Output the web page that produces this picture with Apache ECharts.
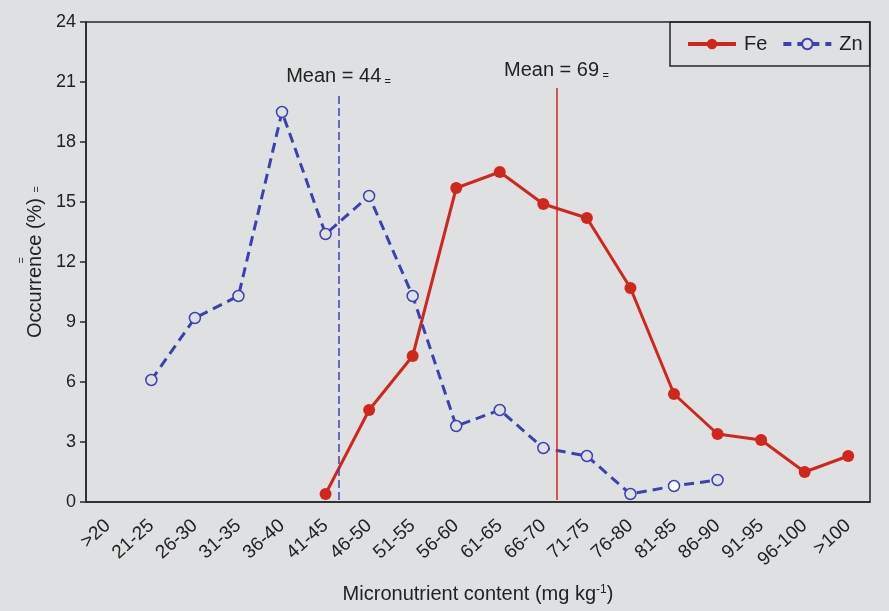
<!DOCTYPE html>
<html>
<head>
<meta charset="utf-8">
<script src="https://cdn.jsdelivr.net/npm/echarts@6/dist/echarts.min.js"></script>
<style>
  html, body { margin: 0; padding: 0; background: #dfe0e2; }
  #chart { width: 889px; height: 611px; }
</style>
</head>
<body>
<div id="chart"></div>
<script>
// Size classes of micronutrient content (mg kg-1)
const categories = ['>20', '21-25', '26-30', '31-35', '36-40', '41-45', '46-50', '51-55',
  '56-60', '61-65', '66-70', '71-75', '76-80', '81-85', '86-90', '91-95', '96-100', '>100'];

// Occurrence (%) per class
const feValues = [null, null, null, null, null, 0.4, 4.6, 7.3, 15.7, 16.5, 14.9, 14.2, 10.7, 5.4, 3.4, 3.1, 1.5, 2.3];
const znValues = [null, 6.1, 9.2, 10.3, 19.5, 13.4, 15.3, 10.3, 3.8, 4.6, 2.7, 2.3, 0.4, 0.8, 1.1, null, null, null];

// Y axis ticks
const yTicks = [0, 3, 6, 9, 12, 15, 18, 21, 24];

// Mean contents (mg kg-1)
const znMean = 44;
const feMean = 69;

const RED = '#d0261e';
const BLUE = '#3a42b2';
const BG = '#dfe0e2';
const INK = '#222';
const FRAME = '#262626';
const FONT = '"Liberation Sans", Arial, sans-serif';

// Class k (k >= 1) covers (15+5k, 20+5k]; map a content value onto the band axis
function bandPos(v) { return (v - 15) / 5; }

const chart = echarts.init(document.getElementById('chart'));

const meanLine = (mean, color, type, top) => ({
  type: 'line',
  xAxisIndex: 1,
  data: [],
  silent: true,
  markLine: {
    symbol: 'none',
    silent: true,
    animation: false,
    lineStyle: { color: color, width: 1.5, type: type },
    label: {
      show: true,
      position: 'end',
      distance: 7,
      formatter: '{m|Mean = ' + mean + '} {s|=}',
      rich: {
        m: { fontFamily: FONT, fontSize: 20, color: INK },
        s: { fontFamily: FONT, fontSize: 11, color: INK, padding: [10, 0, 0, 0] }
      }
    },
    data: [[{ coord: [bandPos(mean), 0.1] }, { coord: [bandPos(mean), top] }]]
  }
});

chart.setOption({
  backgroundColor: BG,
  animation: false,
  textStyle: { fontFamily: FONT },
  grid: {
    left: 86, right: 19, top: 22, bottom: 109,
    show: true, borderColor: FRAME, borderWidth: 1.5, backgroundColor: 'transparent'
  },
  legend: {
    left: 670, top: 22,
    padding: [12, 7, 12, 16],
    borderColor: FRAME, borderWidth: 1.5,
    itemWidth: 48, itemHeight: 13, itemGap: 14,
    textStyle: { fontFamily: FONT, fontSize: 20, color: INK, padding: [0, 0, 0, 3] },
    data: [
      { name: 'Fe', lineStyle: { width: 4 } },
      { name: 'Zn', lineStyle: { width: 4, type: [8, 6] } }
    ]
  },
  xAxis: [{
    type: 'category',
    data: categories,
    boundaryGap: true,
    axisLine: { lineStyle: { color: FRAME, width: 1.5 } },
    axisTick: { alignWithLabel: false, length: 6, lineStyle: { color: FRAME, width: 1.5 } },
    axisLabel: { rotate: 42, fontSize: 19, color: INK, margin: 21, interval: 0 },
    name: 'Micronutrient content (mg kg{sup|-1})',
    nameLocation: 'middle',
    nameGap: 82,
    nameTextStyle: {
      fontSize: 20, color: INK,
      rich: { sup: { fontSize: 12, color: INK, padding: [0, 0, 9, 0] } }
    }
  }, {
    type: 'value',
    min: 0, max: categories.length,
    show: false
  }],
  yAxis: {
    type: 'value',
    min: yTicks[0], max: yTicks[yTicks.length - 1], interval: 3,
    axisLine: { show: true, lineStyle: { color: FRAME, width: 1.5 } },
    axisTick: { show: true, length: 6, lineStyle: { color: FRAME, width: 1.5 } },
    splitLine: { show: false },
    axisLabel: { fontSize: 18, color: INK, margin: 10 },
    name: 'Occurrence (%) {s|=}',
    nameLocation: 'middle',
    nameRotate: 90,
    nameGap: 40,
    nameTextStyle: {
      fontSize: 20, color: INK,
      rich: { s: { fontSize: 11, color: INK, padding: [4, 0, 0, 0] } }
    }
  },
  graphic: [
    { type: 'text', left: 16, top: 257, rotation: Math.PI / 2,
      style: { text: '=', font: '11px ' + FONT, fill: INK } }
  ],
  series: [
    {
      name: 'Fe',
      type: 'line',
      data: feValues,
      symbol: 'circle',
      symbolSize: 12,
      lineStyle: { color: RED, width: 3 },
      itemStyle: { color: RED },
      z: 3
    },
    {
      name: 'Zn',
      type: 'line',
      data: znValues.map((v, i) => i === 13 ? { value: v, itemStyle: { color: '#ffffff' } } : v),
      symbol: 'circle',
      symbolSize: 11,
      lineStyle: { color: BLUE, width: 3, type: [10, 6] },
      itemStyle: { color: BG, borderColor: BLUE, borderWidth: 1.5 },
      z: 4
    },
    meanLine(znMean, BLUE, [8, 4], 20.4),
    meanLine(feMean, RED, 'solid', 20.7)
  ]
});
</script>
</body>
</html>
